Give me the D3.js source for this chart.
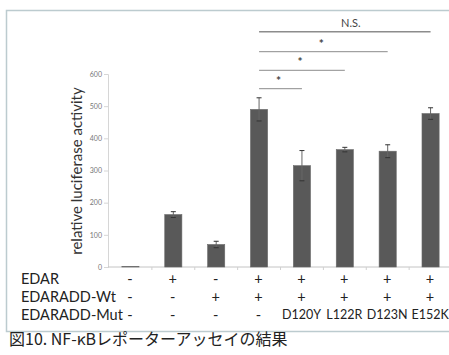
<!DOCTYPE html>
<html><head><meta charset="utf-8">
<script src="https://cdn.jsdelivr.net/npm/d3@7"></script>
<style>html,body{margin:0;padding:0;background:#fff;}svg{display:block;}</style>
</head><body>
<svg id="chart" width="449" height="355"></svg>
<script>
const categories = ["c1","c2","c3","c4","c5","c6","c7","c8"];
const values = [1, 163, 70, 490, 315, 365, 360, 477];
const errors = [0, 9, 10, 36, 47, 7, 20, 18];
const yTicks = [0, 100, 200, 300, 400, 500, 600];
const rowLabels = ["EDAR", "EDARADD-Wt", "EDARADD-Mut"];
const rowEDAR = ["-", "+", "-", "+", "+", "+", "+", "+"];
const rowWt = ["-", "-", "+", "+", "+", "+", "+", "+"];
const rowMut = ["-", "-", "-", "-", "D120Y", "L122R", "D123N", "E152K"];
const sigFrom = [3, 3, 3, 3];
const sigTo = [4, 5, 6, 7];
const sigText = ["*", "*", "*", "N.S."];
const yLabel = "relative luciferase activity";
const caption = "図10. NF-κBレポーターアッセイの結果";

const svg = d3.select("#chart");

// frame
svg.append("rect").attr("x", 6.5).attr("y", 10.5).attr("width", 460).attr("height", 321)
  .attr("fill", "none").attr("stroke", "#bccbcf").attr("stroke-width", 1.5);

const x = d3.scaleBand().domain(categories).range([109, 452]).paddingInner(0.6).paddingOuter(0.3);
const y = d3.scaleLinear().domain([0, 600]).range([267, 74]);

// y axis
const yAxis = svg.append("g").attr("transform", "translate(108,0)")
  .call(d3.axisLeft(y).tickValues(yTicks).tickSize(4).tickPadding(2));
yAxis.select(".domain").attr("stroke", "#d6d6d6");
yAxis.selectAll(".tick line").attr("stroke", "#d6d6d6");
yAxis.selectAll(".tick text").attr("fill", "#777").attr("font-size", "7px")
  .attr("font-family", "Lato, sans-serif");

// x axis
const step = x.step();
const xAxis = svg.append("g").attr("transform", "translate(0,267)");
xAxis.append("line").attr("x1", 108).attr("x2", 452).attr("y1", 0).attr("y2", 0)
  .attr("stroke", "#c4c4c4").attr("stroke-width", 1);
xAxis.selectAll("line.tk").data(categories.slice(1)).join("line").attr("class", "tk")
  .attr("x1", d => x(d) + x.bandwidth() / 2 - step / 2)
  .attr("x2", d => x(d) + x.bandwidth() / 2 - step / 2)
  .attr("y1", 0).attr("y2", 3).attr("stroke", "#d0d0d0");

// bars
svg.selectAll("rect.bar").data(categories).join("rect").attr("class", "bar")
  .attr("x", d => x(d)).attr("width", x.bandwidth())
  .attr("y", (d, i) => y(values[i])).attr("height", (d, i) => y(0) - y(values[i]))
  .attr("fill", "#595959").attr("stroke", "#6a6a6a").attr("stroke-width", 0.6);

// error bars
const eb = svg.append("g");
categories.forEach((c, i) => {
  if (!errors[i]) return;
  const cx = x(c) + x.bandwidth() / 2;
  eb.append("line").attr("x1", cx).attr("x2", cx)
    .attr("y1", y(values[i] + errors[i])).attr("y2", y(values[i] - errors[i]))
    .attr("stroke", "#666").attr("stroke-width", 1);
  [values[i] + errors[i], values[i] - errors[i]].forEach(v => {
    eb.append("line").attr("x1", cx - 2.5).attr("x2", cx + 2.5)
      .attr("y1", y(v)).attr("y2", y(v)).attr("stroke", "#333").attr("stroke-width", 1);
  });
});

// axis label
svg.append("text").attr("transform", "translate(82,171) rotate(-90)")
  .attr("text-anchor", "middle").attr("font-family", "Lato, sans-serif")
  .attr("font-size", "15px").attr("fill", "#333").text(yLabel);

// significance
const sigY = [88.7, 70.3, 51.7, 31.7];
sigFrom.forEach((f, k) => {
  const x1 = x(categories[f]) + x.bandwidth() / 2;
  const x2 = x(categories[sigTo[k]]) + x.bandwidth() / 2;
  svg.append("line").attr("x1", x1).attr("x2", x2).attr("y1", sigY[k]).attr("y2", sigY[k])
    .attr("stroke", "#8c8c8c").attr("stroke-width", k === 3 ? 1.4 : 1);
  const isNS = sigText[k] !== "*";
  svg.append("text").attr("x", (x1 + x2) / 2 + (isNS ? 6 : -2)).attr("y", sigY[k] - (isNS ? 5 : 4))
    .attr("text-anchor", "middle").attr("font-family", "Lato, sans-serif")
    .attr("font-size", isNS ? "11px" : "12px").attr("font-weight", isNS ? "normal" : "bold")
    .attr("fill", "#444").text(sigText[k]);
});

// table
const rows = [rowEDAR, rowWt, rowMut];
const rowY = [279, 297, 315];
rows.forEach((r, k) => {
  svg.append("text").attr("x", 21).attr("y", rowY[k]).attr("dy", "0.35em")
    .attr("font-family", "Lato, sans-serif").attr("font-size", "14.5px").attr("fill", "#222")
    .text(rowLabels[k]);
  svg.selectAll(null).data(categories).join("text")
    .attr("x", d => x(d) + x.bandwidth() / 2 - 0.5).attr("y", rowY[k]).attr("dy", "0.35em")
    .attr("text-anchor", "middle").attr("font-family", "Lato, sans-serif")
    .attr("font-size", (d, i) => r[i].length > 1 ? "12.5px" : "14.5px").attr("fill", "#222")
    .text((d, i) => r[i]);
});

// caption
svg.append("text").attr("x", 9).attr("y", 339).attr("dy", "0.35em")
  .attr("font-family", "'Noto Sans CJK JP', sans-serif").attr("font-size", "16px")
  .attr("fill", "#222").text(caption);
</script>
</body></html>
